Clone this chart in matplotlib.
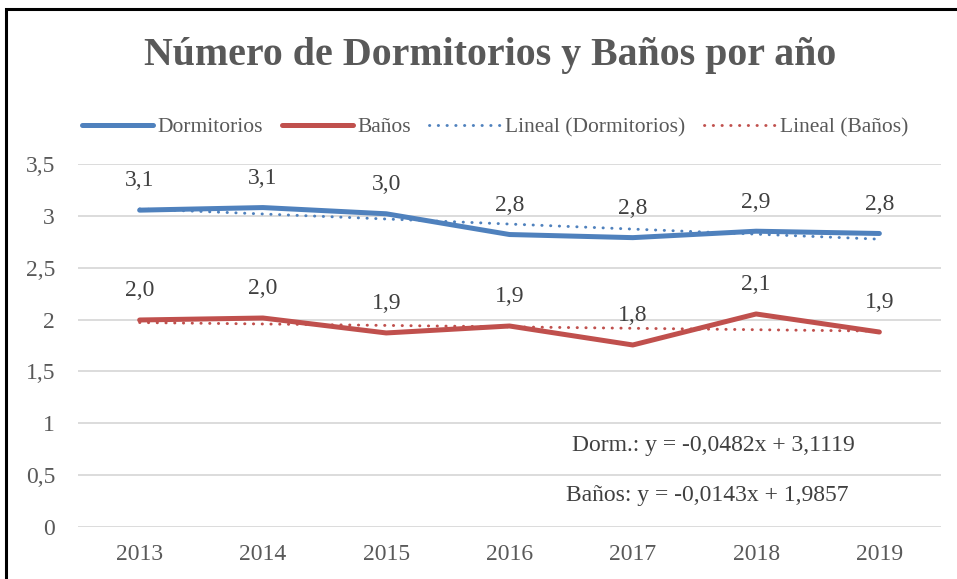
import numpy as np
import matplotlib.pyplot as plt
from matplotlib.patches import Rectangle

years = ['2013', '2014', '2015', '2016', '2017', '2018', '2019']
dormitorios = [3.055, 3.08, 3.02, 2.82, 2.79, 2.852, 2.83]
banos = [1.996, 2.015, 1.871, 1.938, 1.755, 2.054, 1.880]
ytick_values = [0, 0.5, 1, 1.5, 2, 2.5, 3, 3.5]
ytick_labels = ['0', '0,5', '1', '1,5', '2', '2,5', '3', '3,5']
eq_dorm = 'Dorm.: y = -0,0482x + 3,1119'
eq_banos = 'Baños: y = -0,0143x + 1,9857'

plt.rcParams['font.family'] = ['Liberation Serif', 'DejaVu Serif']

blue = '#4F81BD'
red = '#C0504D'
txt = '#595959'
lbl = '#404040'

fig = plt.figure(figsize=(9.57, 5.79), dpi=100)
ax = fig.add_axes([78 / 957, 1 - 527 / 579, (941 - 78) / 957, (527 - 164) / 579])

x = np.arange(len(years))
ax.plot(x, dormitorios, color=blue, lw=3.6, solid_capstyle='round', label='Dormitorios', zorder=3)
ax.plot(x, banos, color=red, lw=3.6, solid_capstyle='round', label='Baños', zorder=3)

# linear trends (Excel style, x = 1..n)
xt = x + 1
for vals, col, name in [(dormitorios, blue, 'Lineal (Dormitorios)'), (banos, red, 'Lineal (Baños)')]:
    m, b = np.polyfit(xt, vals, 1)
    ax.plot(x, m * xt + b, color=col, lw=2.1, linestyle=(0, (0.1, 2.9)),
            dash_capstyle='round', label=name, zorder=4)

for i in x:
    ax.annotate(f'{dormitorios[i]:.1f}'.replace('.', ','), (i, dormitorios[i]),
                xytext=(0, 21), textcoords='offset points', ha='center', va='center',
                fontsize=17, color=lbl)
    ax.annotate(f'{banos[i]:.1f}'.replace('.', ','), (i, banos[i]),
                xytext=(0, 21), textcoords='offset points', ha='center', va='center',
                fontsize=17, color=lbl)

ax.text(713 / 957, 1 - 446 / 579, eq_dorm, transform=fig.transFigure,
        ha='center', va='center', fontsize=17, color=lbl)
ax.text(707 / 957, 1 - 496 / 579, eq_banos, transform=fig.transFigure,
        ha='center', va='center', fontsize=17, color=lbl)

ax.set_xlim(-0.5, len(years) - 0.5)
ax.set_ylim(0, 3.5)
ax.set_xticks(x)
ax.set_xticklabels(years)
ax.set_yticks(ytick_values)
ax.set_yticklabels(ytick_labels)
ax.tick_params(length=0, labelsize=17, labelcolor=txt)
ax.tick_params(axis='x', pad=12)
ax.tick_params(axis='y', pad=16.5)
ax.grid(axis='y', color='#D9D9D9', lw=1.3)
ax.set_axisbelow(True)
for s in ax.spines.values():
    s.set_visible(False)

fig.text(490 / 957, 1 - 56 / 579, 'Número de Dormitorios y Baños por año',
         ha='center', va='center', fontsize=28.7, fontweight='bold', color=txt)

fig.legend(loc='center', bbox_to_anchor=(495 / 957, 1 - 127 / 579), ncol=4, frameon=False,
           fontsize=15.5, handlelength=3.3, handletextpad=0.22, columnspacing=0.85,
           labelcolor=txt)

fig.patches.append(Rectangle((6 / 957, -0.1), 1.1, 1 - 9 / 579 + 0.1, transform=fig.transFigure,
                             fill=False, ec='black', lw=2.2))

fig.savefig('out.png', dpi=100)
